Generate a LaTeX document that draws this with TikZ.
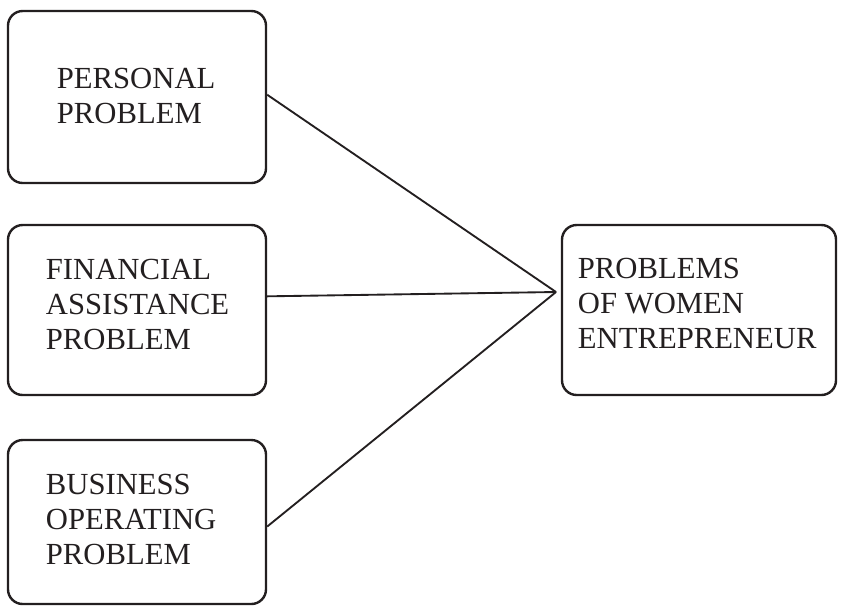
\documentclass[tikz,border=0pt]{standalone}
\usepackage{fontspec}
\setmainfont{Liberation Serif}
\usetikzlibrary{positioning}
\definecolor{ink}{HTML}{231F20}
\tikzset{every path/.style={ink, line width=1.4pt},
  box/.style={draw=ink, line width=1.8pt, rounded corners=11pt, inner sep=0pt},
  boxtext/.style={anchor=north west, inner sep=0pt, align=left, text=ink,
    font=\fontsize{23}{26.3}\selectfont}}

\begin{document}
\begin{tikzpicture}[x=0.75pt,y=-0.75pt]
   \useasboundingbox (0,0) rectangle (841,608);
   \node[box, minimum width=193.5pt, minimum height=129pt]   (personal)  at (137,97)  {};
   \node[box, minimum width=193.5pt, minimum height=127.5pt] (financial) at (137,310) {};
   \node[box, minimum width=193.5pt, minimum height=123pt]   (business)  at (137,522) {};
   \node[box, minimum width=205.5pt, minimum height=127.5pt] (women)     at (699,310) {};
   \node[boxtext] (personaltext)  at (56,67)  {PERSONAL\\PROBLEM};
   \node[boxtext] (financialtext) at (45,258) {FINANCIAL\\ASSISTANCE\\PROBLEM};
   \node[boxtext] (businesstext)  at (45,473) {BUSINESS\\OPERATING\\PROBLEM};
   \node[boxtext] (womentext)     at (577,257) {PROBLEMS\\OF WOMEN\\ENTREPRENEUR};
   \coordinate (meet) at (556,292);
   \draw (personal.1.8)   -- (meet);
   \draw (financial.6.2)  -- (meet);
   \draw (business.-2.2)  -- (meet);
\end{tikzpicture}
\end{document}
